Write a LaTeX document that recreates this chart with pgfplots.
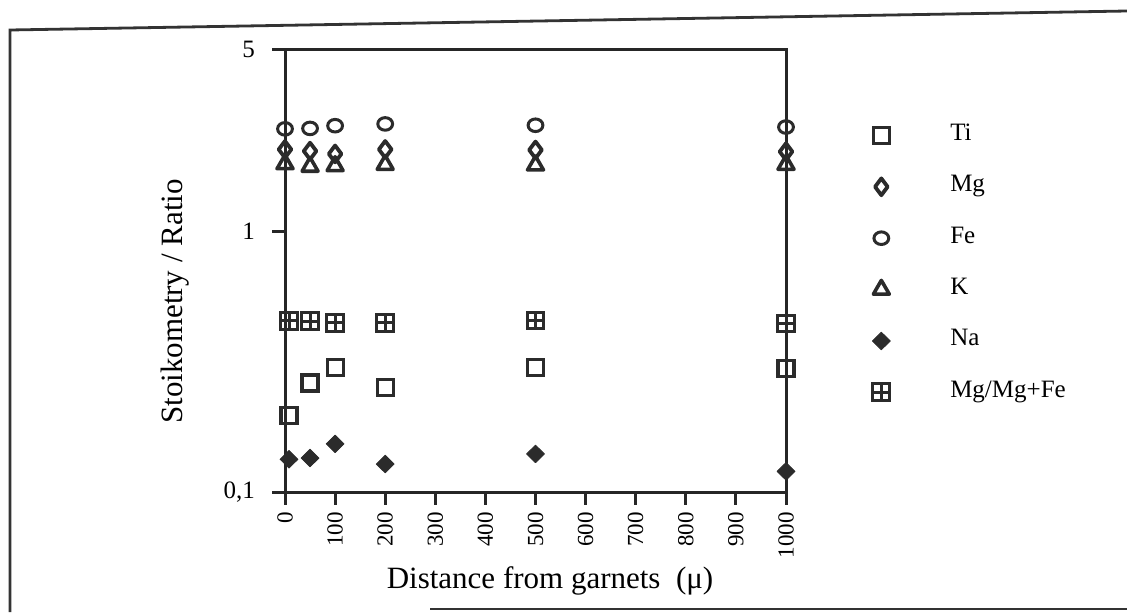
\documentclass[border=0pt]{standalone}
\usepackage{fontspec}
\setmainfont{Liberation Serif}
\usepackage{pgfplots}
\pgfplotsset{compat=1.18}
\definecolor{mk}{HTML}{2B2B2B}
\pgfdeclareplotmark{sqplus}{%
  \pgfpathrectangle{\pgfpoint{-\pgfplotmarksize}{-\pgfplotmarksize}}{\pgfpoint{2\pgfplotmarksize}{2\pgfplotmarksize}}%
  \pgfpathmoveto{\pgfpoint{-\pgfplotmarksize}{0pt}}\pgfpathlineto{\pgfpoint{\pgfplotmarksize}{0pt}}%
  \pgfpathmoveto{\pgfpoint{0pt}{-\pgfplotmarksize}}\pgfpathlineto{\pgfpoint{0pt}{\pgfplotmarksize}}%
  \pgfusepathqstroke}
\begin{document}
\begin{tikzpicture}
\useasboundingbox (0,0) rectangle (563.5pt,306pt);
\draw[line width=1.4pt, black!80] (563.5pt,300.5pt) -- (5pt,291pt) -- (5pt,0pt);
\draw[line width=1.4pt, black!80] (215pt,1.5pt) -- (563.5pt,1.5pt);
\begin{axis}[
  at={(142.5pt,60pt)}, anchor=south west,
  scale only axis, width=250.5pt, height=221.5pt,
  ymode=log, ymin=0.1, ymax=5, xmin=0, xmax=1000,
  axis line style={line width=1.5pt, black!85},
  ytick={0.1,1,5}, yticklabels={{0,1},1,5},
  yminorticks=false,
  xtick={0,100,...,1000},
  xticklabels={0,100,200,300,400,500,600,700,800,900,1000},
  tick align=outside, major tick length=6.5pt,
  tick style={line width=1.5pt, black!85},
  tick pos=left,
  xticklabel style={rotate=90, anchor=east, font=\fontsize{11.5}{13}\selectfont},
  yticklabel style={font=\fontsize{12.5}{14}\selectfont, xshift=-5pt},
  xlabel={Distance from garnets\ \ (μ)},
  ylabel={Stoikometry / Ratio},
  xlabel style={at={(axis description cs:0.529,-0.201)}, anchor=center, font=\fontsize{15.5}{18}\selectfont},
  ylabel style={at={(axis description cs:-0.22,0.43)}, anchor=center, font=\fontsize{15.5}{18}\selectfont},
  clip=false,
  every axis plot/.append style={only marks, color=mk,
    legend image code/.code={\path[draw=none,fill=none] (0pt,-6pt) -- (8pt,6pt); \draw[##1] plot coordinates {(4pt,0pt)};}},
  legend cell align=left,
  legend style={at={(1.1717,0.833)}, anchor=north west, draw=none, fill=none, inner sep=0pt,
    column sep=28pt, row sep=13.7pt,
    nodes={text height=8.5pt, text depth=3.5pt, inner ysep=0pt},
    font=\fontsize{12.5}{14}\selectfont},
]
\addplot[mark=square, mark size=4pt, mark options={line width=1.6pt, draw=mk}] coordinates {
(8,0.196) (50,0.262) (100,0.300) (200,0.251) (500,0.301) (1000,0.298)};
\addlegendentry{Ti}
\addplot[mark=diamond, mark size=4.2pt, mark options={line width=1.9pt, line join=round, draw=mk}] coordinates {
(0,2.06) (50,2.03) (100,1.98) (200,2.06) (500,2.05) (1000,2.02)};
\addlegendentry{Mg}
\addplot[mark=o, mark size=3.7pt, mark options={yscale=0.85, line width=1.5pt, draw=mk}] coordinates {
(0,2.47) (50,2.48) (100,2.54) (200,2.58) (500,2.55) (1000,2.51)};
\addlegendentry{Fe}
\addplot[mark=triangle, mark size=4.6pt, mark options={line width=1.8pt, line join=round, draw=mk}] coordinates {
(0,1.81) (50,1.77) (100,1.78) (200,1.80) (500,1.79) (1000,1.80)};
\addlegendentry{K}
\addplot[mark=diamond*, mark size=4.4pt, mark options={xscale=1.35, fill=mk, draw=mk, line join=round}] coordinates {
(8,0.1335) (50,0.135) (100,0.153) (200,0.128) (500,0.140) (1000,0.120)};
\addlegendentry{Na}
\addplot[mark=sqplus, mark size=4.2pt, mark options={line width=1.5pt, draw=mk}] coordinates {
(8,0.453) (50,0.452) (100,0.446) (200,0.446) (500,0.455) (1000,0.443)};
\addlegendentry{Mg/Mg+Fe}
\end{axis}
\end{tikzpicture}
\end{document}
